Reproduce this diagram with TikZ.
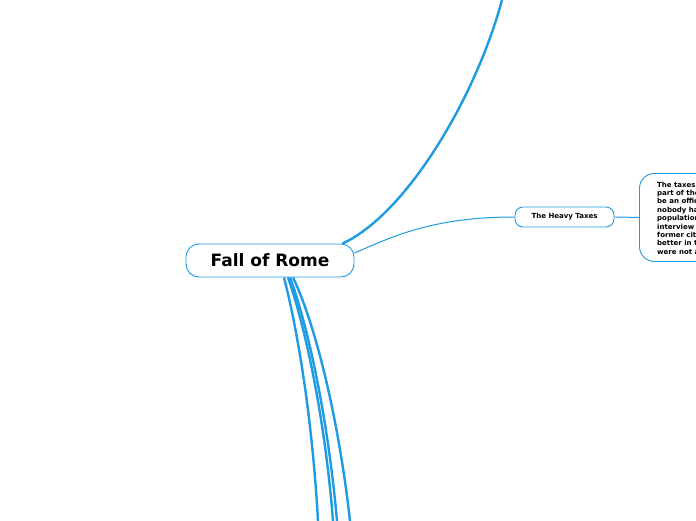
\documentclass[tikz,border=0pt]{standalone}
\usepackage{fontspec}
\newfontfamily\dv{DejaVu Sans}
\usetikzlibrary{calc}
\definecolor{mmblue}{RGB}{30,155,226}
\tikzset{
  rootbox/.style={draw=mmblue, line width=0.9pt, fill=white, rounded corners=13pt,
    minimum width=168pt, minimum height=33pt, inner sep=0pt,
    font=\dv\bfseries\fontsize{17}{20}\selectfont},
  subbox/.style={draw=mmblue, line width=0.9pt, fill=white, rounded corners=8pt,
    minimum width=99pt, minimum height=20pt, inner sep=0pt,
    font=\dv\bfseries\fontsize{7}{8.4}\selectfont},
  detbox/.style={draw=mmblue, line width=0.9pt, fill=white, rounded corners=15pt,
    minimum width=140pt, minimum height=88pt, inner sep=0pt},
  dettext/.style={inner sep=0pt, align=left,
    font=\dv\bfseries\fontsize{7}{8.4}\selectfont},
  thickline/.style={draw=mmblue, line width=2.4pt},
  thinline/.style={draw=mmblue, line width=1pt}
}
\begin{document}
\begin{tikzpicture}[x=1pt,y=-1pt]
\useasboundingbox (0,0) rectangle (696,520);
\clip (0,0) rectangle (696,520);
\fill[white] (0,0) rectangle (696,520);
% nodes
\node[rootbox] (root) at (270,260.5) {Fall of Rome};
\node[subbox] (ht) at (564.5,217) {The Heavy Taxes};
\node[detbox, anchor=north west] (det) at (639,173) {};
\node[dettext, anchor=north west] (dtxt) at (657,181.5) {The taxes were\\part of the reason\\be an officer\\nobody had\\population\\interview\\former citizens\\better in the\\were not as};
% off-canvas ends
\coordinate (topend) at (502,0);
\coordinate (b1) at (318,521);
\coordinate (b2) at (333,521);
\coordinate (b3) at (337,521);
\coordinate (b4) at (350,521);
% connectors
\draw[thickline] ($(root.north east)+(-12,0)$) .. controls (405,215) and (475,100) .. (topend);
\draw[thinline] ($(root.east)+(0,-7.5)$) .. controls (390,238) and (430,217) .. (ht.west);
\draw[thinline] (ht.east) -- (det.west);
\draw[thickline] ($(root.south)+(14,0)$) .. controls (300,340) and (313,430) .. (b1);
\draw[thickline] ($(root.south)+(18,0)$) .. controls (308,335) and (326,430) .. (b2);
\draw[thickline] ($(root.south)+(20,0)$) .. controls (311,335) and (329,430) .. (b3);
\draw[thickline] ($(root.south)+(23,0)$) .. controls (318,330) and (340,430) .. (b4);
\end{tikzpicture}
\end{document}
